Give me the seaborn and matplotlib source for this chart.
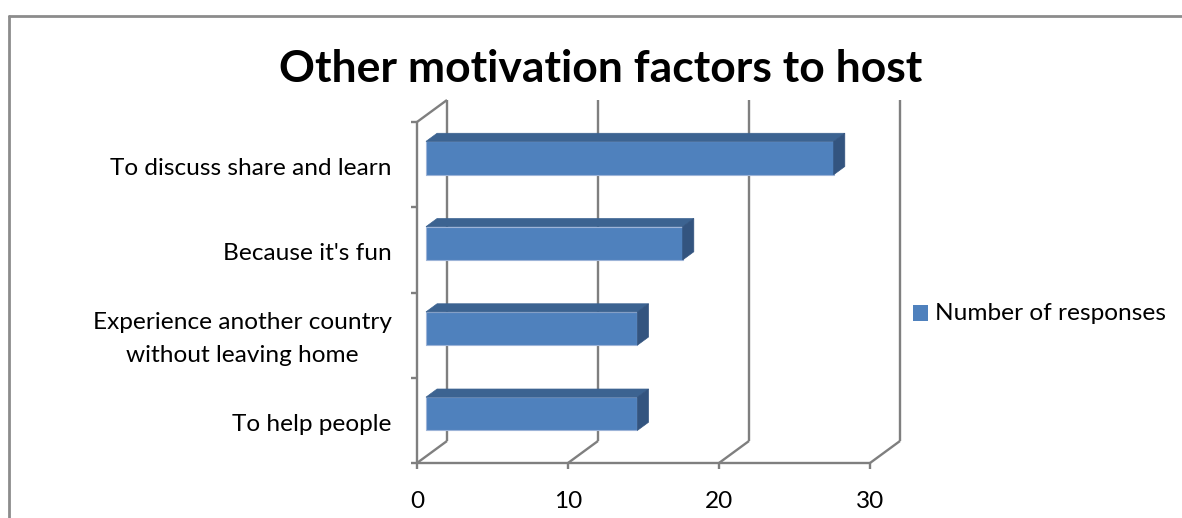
import numpy as np
import pandas as pd
import seaborn as sns
import matplotlib
matplotlib.use("Agg")
import matplotlib.pyplot as plt
from matplotlib.patches import Polygon, Rectangle
from matplotlib.transforms import ScaledTranslation
from matplotlib.lines import Line2D

# ---- data ----
categories = ["To discuss share and learn", "Because it's fun",
              "Experience another country\nwithout leaving home", "To help people"]
responses = [27, 17, 14, 14]
x_ticks = [0, 10, 20, 30]
series_name = "Number of responses"
title = "Other motivation factors to host"

sns.set_theme(style="white")
plt.rcParams["font.family"] = ["Lato", "DejaVu Sans"]

W, H, DPI = 1182, 518, 100
fig = plt.figure(figsize=(W / DPI, H / DPI), dpi=DPI)

# front plane of the 3-D box, in figure pixels
x0, x1 = 417, 870
ytop, ybot = 122, 463
ax = fig.add_axes([x0 / W, (H - ybot) / H, (x1 - x0) / W, (ybot - ytop) / H])

df = pd.DataFrame({"cat": categories, "val": responses})
bar_h = 0.39
sns.barplot(data=df, x="val", y="cat", orient="h", color="#4F81BD",
            width=bar_h, saturation=1, ax=ax, edgecolor="#9DB4D8", linewidth=0.8)
ax.set_xlim(0, 30)
ax.set_ylim(len(categories) - 0.5, -0.5)
ax.set_xlabel("")
ax.set_ylabel("")
ax.set_xticks([])
ax.set_yticks([])
for s in ax.spines.values():
    s.set_visible(False)

LABEL_FS = 17.6

# depth vector (pixels right, pixels up) of the box
DX, DY = 30, 22
def depth(frac):
    return ax.transData + ScaledTranslation(DX * frac / DPI, DY * frac / DPI, fig.dpi_scale_trans)

back = depth(1.0)
grid_kw = dict(color="#7F7F7F", lw=1.7, clip_on=False, solid_capstyle="butt")
ymin, ymax = len(categories) - 0.5, -0.5

# back wall vertical gridlines and floor diagonals
for t in x_ticks:
    ax.plot([t, t], [ymin, ymax], transform=back, **grid_kw)
    p0 = ax.transData.transform((t, ymin))
    p1 = back.transform((t, ymin))
    fig.add_artist(Line2D([p0[0] / W, p1[0] / W], [p0[1] / H, p1[1] / H], **grid_kw))
    # x tick marks and labels on front plane
    fig.add_artist(Line2D([p0[0] / W, p0[0] / W], [p0[1] / H, (p0[1] - 6) / H], **grid_kw))
    ax.text(t, ymin, str(t), transform=ax.transData + ScaledTranslation(0, -0.28, fig.dpi_scale_trans),
            ha="center", va="top", fontsize=LABEL_FS, color="black")

# front bottom edge and front left edge
ax.plot([0, 30], [ymin, ymin], **grid_kw)
ax.plot([0, 0], [ymin, ymax], **grid_kw)
# left wall top diagonal
pa = ax.transData.transform((0, ymax))
pb = back.transform((0, ymax))
fig.add_artist(Line2D([pa[0] / W, pb[0] / W], [pa[1] / H, pb[1] / H], **grid_kw))
# y tick marks at category boundaries
for b in np.arange(-0.5, len(categories), 1.0):
    p = ax.transData.transform((0, b))
    fig.add_artist(Line2D([(p[0] - 6) / W, p[0] / W], [p[1] / H, p[1] / H], **grid_kw))

# category labels
for i, c in enumerate(categories):
    ax.text(0, i, c, transform=ax.transData + ScaledTranslation(-0.25, -0.04, fig.dpi_scale_trans),
            ha="right", va="center", multialignment="center", fontsize=LABEL_FS,
            color="black", linespacing=1.75)

# 3-D faces of each bar: front at depth f0, back at f1
f0, f1 = 0.30, 0.67
front_t = depth(f0)
for patch in ax.patches:
    x = patch.get_x()
    y = patch.get_y()
    w = patch.get_width()
    h = patch.get_height()
    patch.set_transform(front_t)
    patch.set_zorder(3)
    ft = front_t.transform
    bt = depth(f1).transform
    top = [ft((x, y)), ft((x + w, y)), bt((x + w, y)), bt((x, y))]
    side = [ft((x + w, y)), ft((x + w, y + h)), bt((x + w, y + h)), bt((x + w, y))]
    for pts, col in ((top, "#3C6391"), (side, "#33547F")):
        fig.add_artist(Polygon([(px / W, py / H) for px, py in pts], closed=True,
                               facecolor=col, edgecolor=col, lw=0.5, zorder=2))

# title
fig.text(601 / W, (H - 69) / H, title, ha="center", va="center",
         fontsize=32, fontweight="bold", color="black")

# legend
fig.add_artist(Rectangle((913 / W, (H - 321) / H), 15 / W, 16 / H,
                         facecolor="#4F81BD", edgecolor="none"))
fig.text(935 / W, (H - 314) / H, series_name, ha="left", va="center",
         fontsize=LABEL_FS, color="black")

# chart area border
fig.add_artist(Line2D([9 / W, 9 / W], [0, (H - 16) / H], color="#8C8C8C", lw=2))
fig.add_artist(Line2D([9 / W, 1], [(H - 16) / H, (H - 16) / H], color="#8C8C8C", lw=2))

fig.savefig("out.png", dpi=DPI)
